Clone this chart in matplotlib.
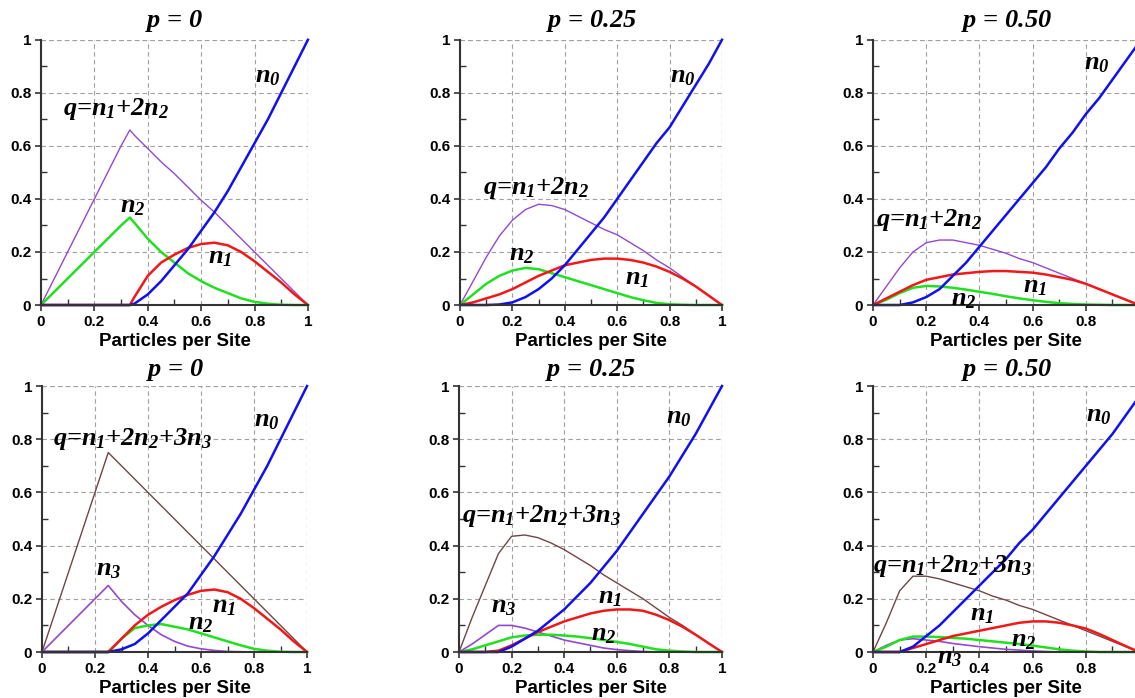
import matplotlib
matplotlib.use('Agg')
import matplotlib.pyplot as plt
from matplotlib.ticker import MultipleLocator, FuncFormatter

plt.rcParams['mathtext.fontset'] = 'custom'
plt.rcParams['mathtext.it'] = 'Liberation Serif:italic:bold'
plt.rcParams['mathtext.rm'] = 'Liberation Serif:italic:bold'

# ---- data ----
x_dimer_p0 = [0, 0.1, 0.2, 0.3, 0.333, 0.35, 0.4, 0.45, 0.5, 0.55, 0.6, 0.65, 0.7, 0.75, 0.8, 0.85, 0.9, 0.95, 1.0]
dimer_p0_n0 = [0, 0, 0, 0, 0, 0.005, 0.04, 0.09, 0.15, 0.21, 0.28, 0.35, 0.43, 0.52, 0.61, 0.70, 0.80, 0.90, 1.0]
dimer_p0_n1 = [0, 0, 0, 0, 0, 0.03, 0.11, 0.16, 0.19, 0.215, 0.23, 0.235, 0.225, 0.2, 0.165, 0.125, 0.085, 0.04, 0]
dimer_p0_n2 = [0, 0.1, 0.2, 0.3, 0.33, 0.31, 0.25, 0.2, 0.16, 0.12, 0.09, 0.065, 0.045, 0.025, 0.012, 0.005, 0.001, 0, 0]
dimer_p0_q = [0, 0.2, 0.4, 0.6, 0.66, 0.64, 0.59, 0.54, 0.495, 0.445, 0.395, 0.35, 0.3, 0.25, 0.2, 0.15, 0.1, 0.05, 0]

x_grid = [0, 0.05, 0.1, 0.15, 0.2, 0.25, 0.3, 0.35, 0.4, 0.45, 0.5, 0.55, 0.6, 0.65, 0.7, 0.75, 0.8, 0.85, 0.9, 0.95, 1.0]

dimer_p25_n0 = [0, 0, 0, 0.002, 0.01, 0.03, 0.06, 0.1, 0.15, 0.21, 0.27, 0.33, 0.4, 0.47, 0.54, 0.61, 0.67, 0.75, 0.83, 0.91, 1.0]
dimer_p25_n1 = [0, 0.01, 0.025, 0.04, 0.06, 0.085, 0.11, 0.13, 0.15, 0.16, 0.17, 0.175, 0.175, 0.17, 0.16, 0.145, 0.125, 0.1, 0.07, 0.035, 0]
dimer_p25_n2 = [0, 0.04, 0.08, 0.11, 0.13, 0.14, 0.135, 0.12, 0.105, 0.09, 0.075, 0.06, 0.045, 0.03, 0.018, 0.008, 0.003, 0.001, 0, 0, 0]
dimer_p25_q = [0, 0.09, 0.18, 0.26, 0.32, 0.36, 0.38, 0.375, 0.36, 0.335, 0.31, 0.285, 0.265, 0.235, 0.205, 0.17, 0.14, 0.105, 0.07, 0.035, 0]

dimer_p50_n0 = [0, 0, 0, 0.01, 0.03, 0.06, 0.11, 0.16, 0.22, 0.28, 0.34, 0.4, 0.46, 0.52, 0.59, 0.65, 0.72, 0.78, 0.85, 0.92, 0.99]
dimer_p50_n1 = [0, 0.025, 0.05, 0.075, 0.095, 0.105, 0.115, 0.12, 0.125, 0.128, 0.128, 0.125, 0.122, 0.115, 0.105, 0.095, 0.08, 0.06, 0.04, 0.02, 0]
dimer_p50_n2 = [0, 0.02, 0.045, 0.065, 0.072, 0.07, 0.065, 0.058, 0.05, 0.042, 0.033, 0.025, 0.018, 0.012, 0.007, 0.004, 0.002, 0.001, 0, 0, 0]
dimer_p50_q = [0, 0.07, 0.14, 0.2, 0.235, 0.245, 0.245, 0.235, 0.225, 0.21, 0.195, 0.175, 0.16, 0.14, 0.12, 0.1, 0.08, 0.06, 0.04, 0.02, 0]

x_trimer_p0 = [0, 0.1, 0.2, 0.25, 0.3, 0.35, 0.4, 0.45, 0.5, 0.55, 0.6, 0.65, 0.7, 0.75, 0.8, 0.85, 0.9, 0.95, 1.0]
trimer_p0_n0 = [0, 0, 0, 0, 0.01, 0.03, 0.07, 0.12, 0.17, 0.22, 0.29, 0.36, 0.44, 0.52, 0.61, 0.70, 0.80, 0.90, 1.0]
trimer_p0_n1 = [0, 0, 0, 0, 0.05, 0.1, 0.14, 0.17, 0.195, 0.215, 0.23, 0.235, 0.225, 0.2, 0.165, 0.125, 0.085, 0.04, 0]
trimer_p0_n2 = [0, 0, 0, 0, 0.05, 0.09, 0.1, 0.105, 0.095, 0.085, 0.07, 0.055, 0.04, 0.025, 0.012, 0.005, 0.001, 0, 0]
trimer_p0_n3 = [0, 0.1, 0.2, 0.25, 0.19, 0.14, 0.1, 0.065, 0.04, 0.022, 0.012, 0.006, 0.002, 0.001, 0, 0, 0, 0, 0]
trimer_p0_q = [0, 0.3, 0.6, 0.75, 0.7, 0.65, 0.6, 0.55, 0.5, 0.45, 0.4, 0.35, 0.3, 0.25, 0.2, 0.15, 0.1, 0.05, 0]

trimer_p25_n0 = [0, 0, 0, 0, 0.02, 0.05, 0.08, 0.12, 0.16, 0.21, 0.26, 0.32, 0.38, 0.45, 0.52, 0.59, 0.66, 0.74, 0.82, 0.91, 1.0]
trimer_p25_n1 = [0, 0, 0, 0.005, 0.025, 0.05, 0.075, 0.095, 0.115, 0.13, 0.145, 0.155, 0.16, 0.16, 0.155, 0.14, 0.12, 0.095, 0.065, 0.032, 0]
trimer_p25_n2 = [0, 0.01, 0.025, 0.04, 0.055, 0.062, 0.065, 0.065, 0.062, 0.058, 0.052, 0.045, 0.038, 0.03, 0.02, 0.01, 0.005, 0.002, 0, 0, 0]
trimer_p25_n3 = [0, 0.03, 0.065, 0.1, 0.1, 0.09, 0.075, 0.06, 0.045, 0.035, 0.025, 0.015, 0.009, 0.005, 0.002, 0, 0, 0, 0, 0, 0]
trimer_p25_q = [0, 0.13, 0.25, 0.37, 0.435, 0.44, 0.43, 0.41, 0.385, 0.355, 0.325, 0.29, 0.26, 0.23, 0.2, 0.165, 0.13, 0.1, 0.065, 0.033, 0]

trimer_p50_n0 = [0, 0, 0, 0.02, 0.06, 0.1, 0.15, 0.2, 0.25, 0.3, 0.35, 0.41, 0.46, 0.52, 0.58, 0.64, 0.7, 0.76, 0.82, 0.89, 0.96]
trimer_p50_n1 = [0, 0, 0, 0.015, 0.03, 0.045, 0.06, 0.07, 0.08, 0.09, 0.1, 0.11, 0.115, 0.115, 0.11, 0.1, 0.088, 0.068, 0.045, 0.022, 0]
trimer_p50_n2 = [0, 0.02, 0.045, 0.058, 0.058, 0.056, 0.053, 0.05, 0.045, 0.04, 0.035, 0.03, 0.024, 0.017, 0.01, 0.005, 0.002, 0, 0, 0, 0]
trimer_p50_n3 = [0, 0.025, 0.045, 0.05, 0.045, 0.04, 0.032, 0.026, 0.02, 0.015, 0.01, 0.007, 0.004, 0.002, 0, 0, 0, 0, 0, 0, 0]
trimer_p50_q = [0, 0.11, 0.23, 0.285, 0.285, 0.275, 0.26, 0.245, 0.23, 0.21, 0.195, 0.175, 0.16, 0.14, 0.12, 0.1, 0.08, 0.06, 0.04, 0.02, 0]

blue = '#1010f0'
red = '#f01818'
green = '#20e020'
violet = '#9448d0'
brown = '#6e4646'

label_q2 = r'$q$=$n_1$+2$n_2$'
label_q3 = r'$q$=$n_1$+2$n_2$+3$n_3$'

panels = [
    {'rect': [0.0361, 0.563, 0.2352, 0.380], 'title': r'$p$ = 0', 'x': x_dimer_p0, 'clip': False, 'pad': 9,
     'curves': [(dimer_p0_q, violet, 1.0), (dimer_p0_n2, green, 1.8), (dimer_p0_n1, red, 1.8), (dimer_p0_n0, blue, 1.8)],
     'labels': [(label_q2, 0.28, 0.74), (r'$n_2$', 0.345, 0.37), (r'$n_1$', 0.67, 0.18), (r'$n_0$', 0.85, 0.86)]},
    {'rect': [0.4053, 0.563, 0.2308, 0.380], 'title': r'$p$ = 0.25', 'x': x_grid, 'clip': False, 'pad': 9,
     'curves': [(dimer_p25_q, violet, 1.0), (dimer_p25_n2, green, 1.8), (dimer_p25_n1, red, 1.8), (dimer_p25_n0, blue, 1.8)],
     'labels': [(label_q2, 0.29, 0.44), (r'$n_2$', 0.235, 0.19), (r'$n_1$', 0.675, 0.10), (r'$n_0$', 0.85, 0.86)]},
    {'rect': [0.7692, 0.563, 0.2344, 0.380], 'title': r'$p$ = 0.50', 'x': x_grid, 'clip': True, 'pad': 9,
     'curves': [(dimer_p50_q, violet, 1.0), (dimer_p50_n2, green, 1.8), (dimer_p50_n1, red, 1.8), (dimer_p50_n0, blue, 1.8)],
     'labels': [(label_q2, 0.21, 0.32), (r'$n_2$', 0.34, 0.02), (r'$n_1$', 0.61, 0.07), (r'$n_0$', 0.84, 0.91)]},
    {'rect': [0.0370, 0.0659, 0.2335, 0.381], 'title': r'$p$ = 0', 'x': x_trimer_p0, 'clip': False, 'pad': 7,
     'curves': [(trimer_p0_q, brown, 1.0), (trimer_p0_n3, violet, 1.2), (trimer_p0_n2, green, 1.8), (trimer_p0_n1, red, 1.8), (trimer_p0_n0, blue, 1.8)],
     'labels': [(label_q3, 0.34, 0.80), (r'$n_3$', 0.25, 0.31), (r'$n_1$', 0.685, 0.17), (r'$n_2$', 0.60, 0.107), (r'$n_0$', 0.85, 0.87)]},
    {'rect': [0.4044, 0.0659, 0.2317, 0.381], 'title': r'$p$ = 0.25', 'x': x_grid, 'clip': False, 'pad': 7,
     'curves': [(trimer_p25_q, brown, 1.0), (trimer_p25_n3, violet, 1.2), (trimer_p25_n2, green, 1.8), (trimer_p25_n1, red, 1.8), (trimer_p25_n0, blue, 1.8)],
     'labels': [(label_q3, 0.315, 0.51), (r'$n_3$', 0.17, 0.17), (r'$n_1$', 0.575, 0.205), (r'$n_2$', 0.55, 0.065), (r'$n_0$', 0.835, 0.88)]},
    {'rect': [0.7692, 0.0659, 0.2344, 0.381], 'title': r'$p$ = 0.50', 'x': x_grid, 'clip': True, 'pad': 7,
     'curves': [(trimer_p50_q, brown, 1.0), (trimer_p50_n3, violet, 1.2), (trimer_p50_n2, green, 1.8), (trimer_p50_n1, red, 1.8), (trimer_p50_n0, blue, 1.8)],
     'labels': [(label_q3, 0.30, 0.325), (r'$n_1$', 0.41, 0.14), (r'$n_2$', 0.565, 0.045), (r'$n_3$', 0.29, -0.02), (r'$n_0$', 0.85, 0.89)]},
]

fig = plt.figure(figsize=(11.35, 6.98), dpi=100)
tick_fmt = FuncFormatter(lambda v, pos: '{:g}'.format(round(v, 2)))
# right-hand panels run off the picture edge, so their "1" is not shown
cut_fmt = FuncFormatter(lambda v, pos: '' if v > 0.95 else '{:g}'.format(round(v, 2)))

for panel in panels:
    ax = fig.add_axes(panel['rect'])
    ax.set_xlim(0, 1)
    ax.set_ylim(0, 1)
    for ys, color, lw in panel['curves']:
        ax.plot(panel['x'], ys, color=color, lw=lw, clip_on=False)

    for text, tx, ty in panel['labels']:
        ax.text(tx, ty, text, ha='center', va='center', fontsize=19,
                family='Liberation Serif', style='italic', weight='bold')

    ax.set_title(panel['title'], fontsize=19, family='Liberation Serif',
                 style='italic', weight='bold', pad=panel['pad'])
    ax.set_xlabel('Particles per Site', fontsize=13.5, family='Liberation Sans',
                  weight='bold', labelpad=3)

    ax.xaxis.set_major_locator(MultipleLocator(0.2))
    ax.yaxis.set_major_locator(MultipleLocator(0.2))
    ax.xaxis.set_minor_locator(MultipleLocator(0.1))
    ax.yaxis.set_minor_locator(MultipleLocator(0.1))
    ax.xaxis.set_major_formatter(cut_fmt if panel['clip'] else tick_fmt)
    ax.yaxis.set_major_formatter(tick_fmt)
    for lbl in ax.get_xticklabels() + ax.get_yticklabels():
        lbl.set_family('Liberation Sans')
        lbl.set_weight('bold')
    ax.tick_params(which='major', direction='out', length=4, width=1.2, labelsize=11, color='#333333', pad=3)
    ax.tick_params(which='minor', direction='in', length=4, width=1.0, color='#333333')

    ax.grid(True, which='major', color='#a0a0a0', linestyle=(0, (4, 3)), linewidth=0.8)
    ax.set_axisbelow(True)
    ax.spines['top'].set_visible(False)
    ax.spines['right'].set_visible(False)
    for side in ('left', 'bottom'):
        ax.spines[side].set_color('#333333')
        ax.spines[side].set_linewidth(1.5)
    # dashed lines closing the frame at 1.0
    ax.axhline(1.0, color='#a0a0a0', linestyle=(0, (4, 3)), linewidth=0.8, zorder=0.5)
    ax.axvline(1.0, color='#a0a0a0', linestyle=(0, (4, 3)), linewidth=0.8, zorder=0.5)

plt.savefig('out.png', dpi=100)
